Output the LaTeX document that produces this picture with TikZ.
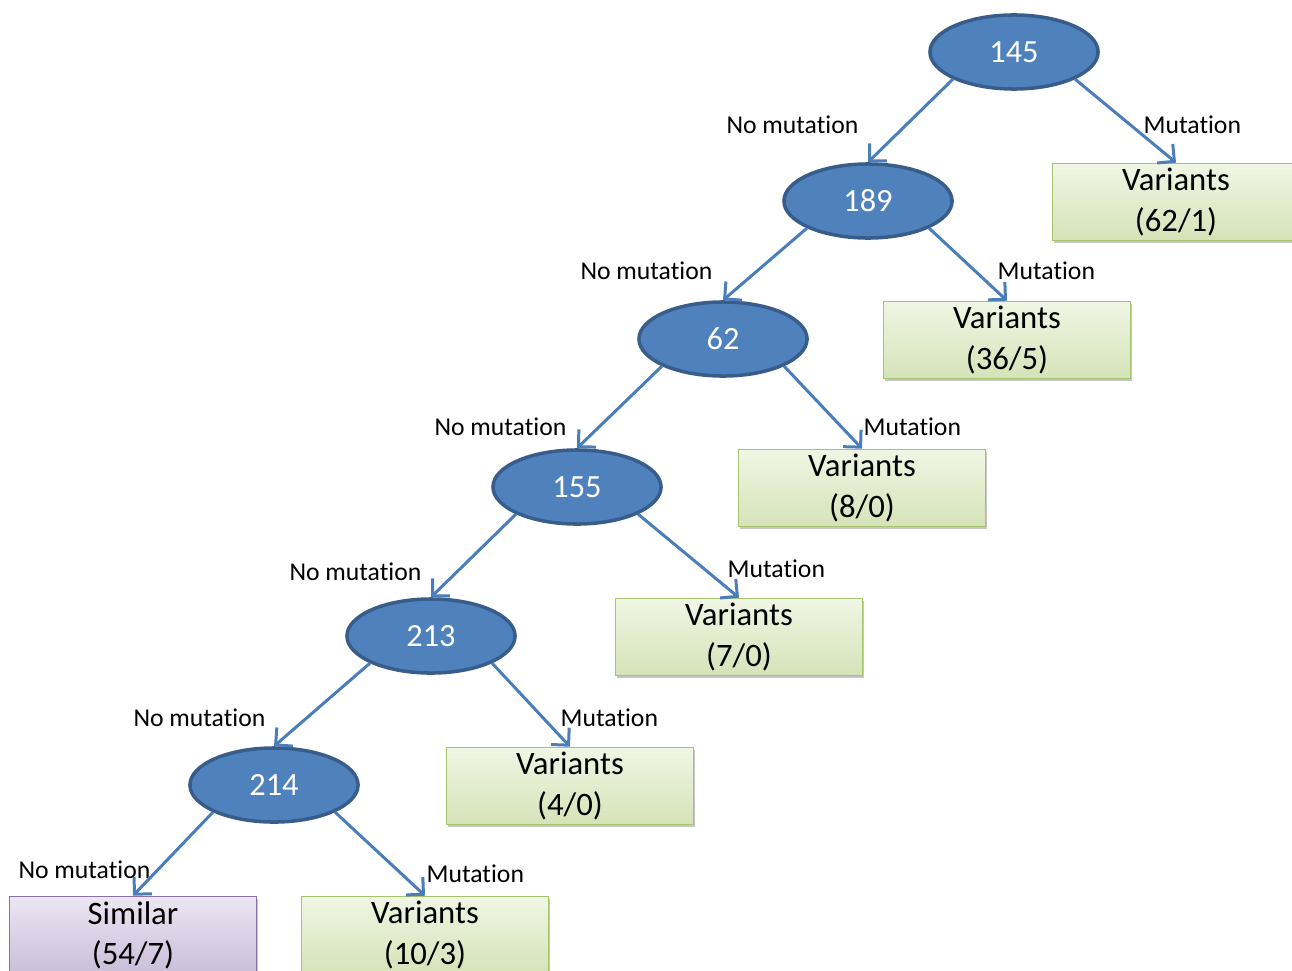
\documentclass[tikz,border=0pt]{standalone}
\usepackage{fontspec}
\setmainfont[Ligatures=NoCommon]{Carlito}
\usetikzlibrary{arrows.meta,shapes,shadows}

\definecolor{nodeblue}{HTML}{4F81BD}
\definecolor{nodeedge}{HTML}{385D8A}
\definecolor{arrowblue}{HTML}{4A7EBB}
\definecolor{greenedge}{HTML}{A6C46E}
\definecolor{greentop}{HTML}{F0F6E4}
\definecolor{greenbot}{HTML}{D5E3B8}
\definecolor{purpleedge}{HTML}{8A70AA}
\definecolor{purpletop}{HTML}{ECE6F2}
\definecolor{purplebot}{HTML}{CABEDA}

\tikzset{
  splitnode/.style={ellipse, draw=nodeedge, line width=1pt, fill=nodeblue, text=white,
    minimum width=1.68cm, minimum height=0.74cm, inner sep=0pt, font=\fontsize{9.2}{11}\selectfont},
  leafbox/.style={rectangle, draw, line width=0.45pt, minimum width=2.47cm, minimum height=0.77cm,
    inner sep=0pt, align=center, font=\fontsize{9.3}{11.4}\selectfont,
    drop shadow={shadow xshift=0.4pt, shadow yshift=-0.8pt, opacity=0.45}},
  variants/.style={leafbox, draw=greenedge, top color=greentop, bottom color=greenbot},
  similar/.style={leafbox, draw=purpleedge, top color=purpletop, bottom color=purplebot},
  branchline/.style={->, >={Straight Barb[length=3.5pt,width=7pt]}, arrowblue, line width=0.85pt},
  outcome/.style={font=\fontsize{7.3}{9}\selectfont, inner sep=0pt}
}

\begin{document}
\begin{tikzpicture}[x=0.01cm,y=-0.01cm]
  \useasboundingbox (0,0) rectangle (1292,970);

  % split nodes
  \node[splitnode] (s145) at (1014,52) {145};
  \node[splitnode] (s189) at (868,201) {189};
  \node[splitnode] (s62) at (723,339) {62};
  \node[splitnode] (s155) at (577,487) {155};
  \node[splitnode] (s213) at (431,636) {213};
  \node[splitnode] (s214) at (274,785) {214};

  % leaves
  \node[variants] (v145) at (1176,202) {Variants\\(62/1)};
  \node[variants] (v189) at (1007,340) {Variants\\(36/5)};
  \node[variants] (v62) at (862,488) {Variants\\(8/0)};
  \node[variants] (v155) at (739,637) {Variants\\(7/0)};
  \node[variants] (v213) at (570,786) {Variants\\(4/0)};
  \node[variants] (v214) at (425,935) {Variants\\(10/3)};
  \node[similar] (sim214) at (133,935) {Similar\\(54/7)};

  % branch labels
  \node[outcome, anchor=east] (nm145) at (859,125) {No mutation};
  \node[outcome, anchor=west] (m145) at (1143,125) {Mutation};
  \node[outcome, anchor=east] (nm189) at (713,271) {No mutation};
  \node[outcome, anchor=west] (m189) at (997,271) {Mutation};
  \node[outcome, anchor=east] (nm62) at (567,427) {No mutation};
  \node[outcome, anchor=west] (m62) at (863,427) {Mutation};
  \node[outcome, anchor=east] (nm155) at (422,572) {No mutation};
  \node[outcome, anchor=west] (m155) at (727,569) {Mutation};
  \node[outcome, anchor=east] (nm213) at (266,718) {No mutation};
  \node[outcome, anchor=west] (m213) at (560,718) {Mutation};
  \node[outcome, anchor=east] (nm214) at (151,870) {No mutation};
  \node[outcome, anchor=west] (m214) at (426,874) {Mutation};

  % branches
  \draw[branchline] (s145.204) -- (s189.north);
  \draw[branchline] (s145.336) -- (v145.north);
  \draw[branchline] (s189.204) -- (s62.north);
  \draw[branchline] (s189.336) -- (v189.north);
  \draw[branchline] (s62.204) -- (s155.north);
  \draw[branchline] (s62.336) -- (v62.north);
  \draw[branchline] (s155.204) -- (s213.north);
  \draw[branchline] (s155.336) -- (v155.north);
  \draw[branchline] (s213.204) -- (s214.north);
  \draw[branchline] (s213.336) -- (v213.north);
  \draw[branchline] (s214.204) -- (sim214.north);
  \draw[branchline] (s214.336) -- (v214.north);
\end{tikzpicture}
\end{document}
